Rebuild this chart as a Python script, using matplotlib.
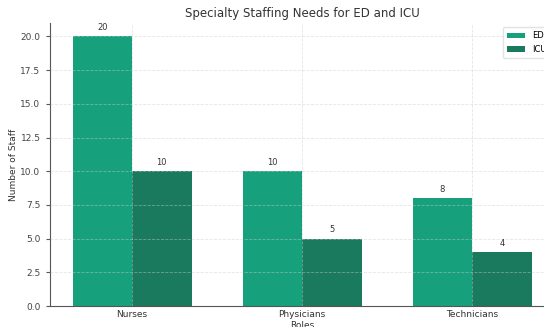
import numpy as np
import matplotlib
matplotlib.use('Agg')
import matplotlib.pyplot as plt

roles = ['Nurses', 'Physicians', 'Technicians']
ed_staff = [20, 10, 8]
icu_staff = [10, 5, 4]

ed_color = '#17a07c'
icu_color = '#1a7a5e'

fig = plt.figure(figsize=(5.44, 3.27), dpi=100)
# axes runs a little past the right edge, like the cropped original
ax = fig.add_axes([49.6 / 544, 21 / 327, 505 / 544, 283 / 327])

x = np.arange(len(roles))
width = 0.35
b1 = ax.bar(x - width / 2, ed_staff, width, label='ED', color=ed_color)
b2 = ax.bar(x + width / 2, icu_staff, width, label='ICU', color=icu_color)

for bars in (b1, b2):
    for rect in bars:
        h = rect.get_height()
        ax.annotate(f'{h}', xy=(rect.get_x() + rect.get_width() / 2, h),
                    xytext=(0, 3), textcoords='offset points',
                    ha='center', va='bottom', fontsize=6, color='#333333')

ax.set_xticks(x)
ax.set_xticklabels(roles, fontsize=6.5, color='#333333')
ax.set_yticks(np.arange(0, 20.1, 2.5))
ax.tick_params(axis='y', labelsize=6.5, labelcolor='#444444', length=3, color='#555555')
ax.tick_params(axis='x', length=0, pad=3)
ax.set_ylabel('Number of Staff', fontsize=6.5, color='#333333', labelpad=2)
ax.set_xlabel('Roles', fontsize=6.5, color='#333333', labelpad=1)
ax.set_title('Specialty Staffing Needs for ED and ICU', fontsize=8.5, color='#333333', pad=4)

ax.grid(True, color='#cccccc', linewidth=0.6, linestyle='--', alpha=0.5)
ax.set_axisbelow(False)
for s in ('top', 'right'):
    ax.spines[s].set_visible(False)
for s in ('left', 'bottom'):
    ax.spines[s].set_color('#555555')
    ax.spines[s].set_linewidth(0.8)

ax.legend(loc='upper right', fontsize=6, frameon=True, edgecolor='#dddddd',
          handlelength=2.2, borderpad=0.5)

fig.savefig('out.png', dpi=100)
